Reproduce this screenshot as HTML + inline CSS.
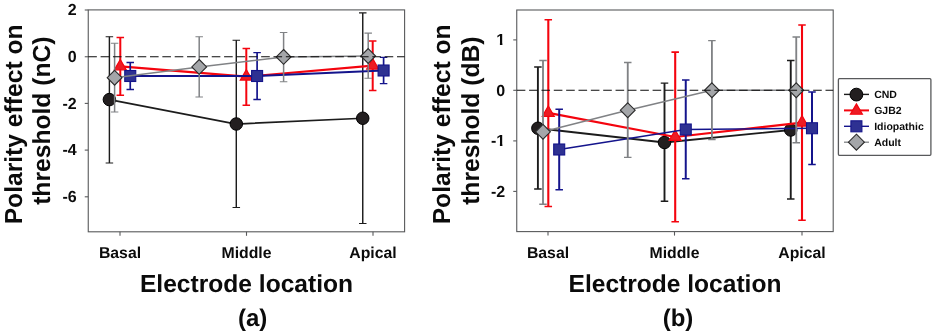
<!DOCTYPE html>
<html><head><meta charset="utf-8"><title>Polarity effect on threshold</title>
<style>html,body{margin:0;padding:0;background:#fff}svg{display:block}</style></head>
<body>
<svg width="935" height="336" viewBox="0 0 935 336" font-family="'Liberation Sans', Arial, sans-serif" font-weight="bold" fill="#0b0b0b" text-rendering="geometricPrecision">
<defs><clipPath id="c1" clipPathUnits="userSpaceOnUse"><rect x="476.75" y="27" width="36" height="16"/><rect x="499.90" y="43" width="2.5" height="3"/></clipPath><clipPath id="cm1" clipPathUnits="userSpaceOnUse"><rect x="476.75" y="128" width="36" height="16"/><rect x="499.90" y="144" width="2.5" height="3"/></clipPath></defs>
<rect width="935" height="336" fill="#fff"/>
<rect x="88.25" y="9.9" width="316.35" height="221.9" fill="none" stroke="#58595b" stroke-width="1.1"/>
<line x1="84.75" x2="88.25" y1="10" y2="10" stroke="#58595b" stroke-width="1.1"/>
<text x="76.75" y="15" text-anchor="end" font-size="16">2</text>
<line x1="84.75" x2="88.25" y1="56.75" y2="56.75" stroke="#58595b" stroke-width="1.1"/>
<text x="76.75" y="62" text-anchor="end" font-size="16">0</text>
<line x1="84.75" x2="88.25" y1="103.4" y2="103.4" stroke="#58595b" stroke-width="1.1"/>
<text x="76.75" y="109" text-anchor="end" font-size="16">-2</text>
<line x1="84.75" x2="88.25" y1="150.1" y2="150.1" stroke="#58595b" stroke-width="1.1"/>
<text x="76.75" y="155" text-anchor="end" font-size="16">-4</text>
<line x1="84.75" x2="88.25" y1="196.8" y2="196.8" stroke="#58595b" stroke-width="1.1"/>
<text x="76.75" y="202" text-anchor="end" font-size="16">-6</text>
<line x1="120" x2="120" y1="231.8" y2="235.8" stroke="#58595b" stroke-width="1.1"/>
<text x="120" y="257.6" text-anchor="middle" font-size="15.8">Basal</text>
<line x1="246.5" x2="246.5" y1="231.8" y2="235.8" stroke="#58595b" stroke-width="1.1"/>
<text x="246.5" y="257.6" text-anchor="middle" font-size="15.8">Middle</text>
<line x1="373" x2="373" y1="231.8" y2="235.8" stroke="#58595b" stroke-width="1.1"/>
<text x="373" y="257.6" text-anchor="middle" font-size="15.8">Apical</text>
<path d="M109.4 36.75V163" stroke="#1c1c1c" stroke-width="1.45" fill="none"/><path d="M105.65 36.75H113.15M105.65 163H113.15" stroke="#1c1c1c" stroke-width="1.10" fill="none"/>
<path d="M236.3 40.2V207.5" stroke="#1c1c1c" stroke-width="1.45" fill="none"/><path d="M232.55 40.2H240.05M232.55 207.5H240.05" stroke="#1c1c1c" stroke-width="1.10" fill="none"/>
<path d="M362.75 12.9V223.5" stroke="#1c1c1c" stroke-width="1.45" fill="none"/><path d="M359.0 12.9H366.5M359.0 223.5H366.5" stroke="#1c1c1c" stroke-width="1.10" fill="none"/>
<path d="M109.4 99.6 L236.3 124 L362.75 118.25" stroke="#1c1c1c" stroke-width="1.75" fill="none"/>
<circle cx="109.4" cy="99.6" r="6.25" fill="#231f20" stroke="#000" stroke-width="1"/>
<circle cx="236.3" cy="124" r="6.25" fill="#231f20" stroke="#000" stroke-width="1"/>
<circle cx="362.75" cy="118.25" r="6.25" fill="#231f20" stroke="#000" stroke-width="1"/>
<path d="M120.3 37.5V95.25" stroke="#f4040e" stroke-width="2.0" fill="none"/><path d="M116.55 37.5H124.05M116.55 95.25H124.05" stroke="#f4040e" stroke-width="1.50" fill="none"/>
<path d="M246.3 48.6V105.25" stroke="#f4040e" stroke-width="2.0" fill="none"/><path d="M242.55 48.6H250.05M242.55 105.25H250.05" stroke="#f4040e" stroke-width="1.50" fill="none"/>
<path d="M372.7 41.1V90.6" stroke="#f4040e" stroke-width="2.0" fill="none"/><path d="M368.95 41.1H376.45M368.95 90.6H376.45" stroke="#f4040e" stroke-width="1.50" fill="none"/>
<path d="M120.3 66.4 L246.3 76.6 L372.7 65.6" stroke="#f4040e" stroke-width="2.1" fill="none"/>
<path d="M120.3 59.47L126.3 69.86H114.3Z" fill="#ed1c24" stroke="#f4040e" stroke-width="1.2" stroke-linejoin="miter"/>
<path d="M246.3 69.67L252.3 80.06H240.3Z" fill="#ed1c24" stroke="#f4040e" stroke-width="1.2" stroke-linejoin="miter"/>
<path d="M372.7 58.67L378.7 69.06H366.7Z" fill="#ed1c24" stroke="#f4040e" stroke-width="1.2" stroke-linejoin="miter"/>
<path d="M130.25 62.5V89.5" stroke="#14148c" stroke-width="1.7" fill="none"/><path d="M126.5 62.5H134.0M126.5 89.5H134.0" stroke="#14148c" stroke-width="1.27" fill="none"/>
<path d="M257.1 52.7V99.5" stroke="#14148c" stroke-width="1.7" fill="none"/><path d="M253.35000000000002 52.7H260.85M253.35000000000002 99.5H260.85" stroke="#14148c" stroke-width="1.27" fill="none"/>
<path d="M383.6 57.4V83.6" stroke="#14148c" stroke-width="1.7" fill="none"/><path d="M379.85 57.4H387.35M379.85 83.6H387.35" stroke="#14148c" stroke-width="1.27" fill="none"/>
<path d="M130.25 76 L257.1 76 L383.6 70.5" stroke="#14148c" stroke-width="2.0" fill="none"/>
<rect x="124.75" y="70.5" width="11.0" height="11.0" fill="#2e3192" stroke="#14148a" stroke-width="1.1"/>
<rect x="251.60000000000002" y="70.5" width="11.0" height="11.0" fill="#2e3192" stroke="#14148a" stroke-width="1.1"/>
<rect x="378.1" y="65.0" width="11.0" height="11.0" fill="#2e3192" stroke="#14148a" stroke-width="1.1"/>
<path d="M114.6 43.25V112" stroke="#808285" stroke-width="1.5" fill="none"/><path d="M110.85 43.25H118.35M110.85 112H118.35" stroke="#808285" stroke-width="1.12" fill="none"/>
<path d="M199.2 36.75V97" stroke="#808285" stroke-width="1.5" fill="none"/><path d="M195.45 36.75H202.95M195.45 97H202.95" stroke="#808285" stroke-width="1.12" fill="none"/>
<path d="M283.6 32.5V81.8" stroke="#808285" stroke-width="1.5" fill="none"/><path d="M279.85 32.5H287.35M279.85 81.8H287.35" stroke="#808285" stroke-width="1.12" fill="none"/>
<path d="M368.2 33.1V78.2" stroke="#808285" stroke-width="1.5" fill="none"/><path d="M364.45 33.1H371.95M364.45 78.2H371.95" stroke="#808285" stroke-width="1.12" fill="none"/>
<path d="M114.6 77.7 L199.2 66.9 L283.6 56.9 L368.2 56" stroke="#808285" stroke-width="1.5" fill="none"/>
<path d="M114.6 70.3L122.0 77.7L114.6 85.10000000000001L107.19999999999999 77.7Z" fill="#a4a6a9" stroke="#2a2a2a" stroke-width="1.1"/>
<path d="M199.2 59.50000000000001L206.6 66.9L199.2 74.30000000000001L191.79999999999998 66.9Z" fill="#a4a6a9" stroke="#2a2a2a" stroke-width="1.1"/>
<path d="M283.6 49.5L291.0 56.9L283.6 64.3L276.20000000000005 56.9Z" fill="#a4a6a9" stroke="#2a2a2a" stroke-width="1.1"/>
<path d="M368.2 48.6L375.59999999999997 56L368.2 63.4L360.8 56Z" fill="#a4a6a9" stroke="#2a2a2a" stroke-width="1.1"/>
<line x1="88.25" x2="404.6" y1="56.7" y2="56.7" stroke="#0c0c0c" stroke-width="1.1" stroke-dasharray="8.6 3.75"/>
<rect x="516.75" y="10" width="316.45000000000005" height="221.6" fill="none" stroke="#58595b" stroke-width="1.1"/>
<line x1="513.25" x2="516.75" y1="39.9" y2="39.9" stroke="#58595b" stroke-width="1.1"/>
<text x="505.25" y="45" text-anchor="end" font-size="16" clip-path="url(#c1)">1</text>
<line x1="513.25" x2="516.75" y1="90.3" y2="90.3" stroke="#58595b" stroke-width="1.1"/>
<text x="505.25" y="96" text-anchor="end" font-size="16">0</text>
<line x1="513.25" x2="516.75" y1="140.9" y2="140.9" stroke="#58595b" stroke-width="1.1"/>
<text x="505.25" y="146" text-anchor="end" font-size="16" clip-path="url(#cm1)">-1</text>
<line x1="513.25" x2="516.75" y1="191.4" y2="191.4" stroke="#58595b" stroke-width="1.1"/>
<text x="505.25" y="197" text-anchor="end" font-size="16">-2</text>
<line x1="548" x2="548" y1="231.6" y2="235.6" stroke="#58595b" stroke-width="1.1"/>
<text x="548" y="257.6" text-anchor="middle" font-size="15.8">Basal</text>
<line x1="674.5" x2="674.5" y1="231.6" y2="235.6" stroke="#58595b" stroke-width="1.1"/>
<text x="674.5" y="257.6" text-anchor="middle" font-size="15.8">Middle</text>
<line x1="802" x2="802" y1="231.6" y2="235.6" stroke="#58595b" stroke-width="1.1"/>
<text x="802" y="257.6" text-anchor="middle" font-size="15.8">Apical</text>
<path d="M537.9 67V189" stroke="#1c1c1c" stroke-width="1.9" fill="none"/><path d="M534.15 67H541.65M534.15 189H541.65" stroke="#1c1c1c" stroke-width="1.42" fill="none"/>
<path d="M664.5 83.1V201.25" stroke="#1c1c1c" stroke-width="1.9" fill="none"/><path d="M660.75 83.1H668.25M660.75 201.25H668.25" stroke="#1c1c1c" stroke-width="1.42" fill="none"/>
<path d="M790.75 60.5V199" stroke="#1c1c1c" stroke-width="1.9" fill="none"/><path d="M787.0 60.5H794.5M787.0 199H794.5" stroke="#1c1c1c" stroke-width="1.42" fill="none"/>
<path d="M537.9 128.25 L664.5 142.5 L790.75 130" stroke="#1c1c1c" stroke-width="1.9" fill="none"/>
<circle cx="537.9" cy="128.25" r="6.25" fill="#231f20" stroke="#000" stroke-width="1"/>
<circle cx="664.5" cy="142.5" r="6.25" fill="#231f20" stroke="#000" stroke-width="1"/>
<circle cx="790.75" cy="130" r="6.25" fill="#231f20" stroke="#000" stroke-width="1"/>
<path d="M548.3 19.8V206.5" stroke="#f4040e" stroke-width="2.1" fill="none"/><path d="M544.55 19.8H552.05M544.55 206.5H552.05" stroke="#f4040e" stroke-width="1.58" fill="none"/>
<path d="M675.2 52.1V221.75" stroke="#f4040e" stroke-width="2.1" fill="none"/><path d="M671.45 52.1H678.95M671.45 221.75H678.95" stroke="#f4040e" stroke-width="1.58" fill="none"/>
<path d="M802 25V220.25" stroke="#f4040e" stroke-width="2.1" fill="none"/><path d="M798.25 25H805.75M798.25 220.25H805.75" stroke="#f4040e" stroke-width="1.58" fill="none"/>
<path d="M548.3 112.9 L675.2 137 L802 122.6" stroke="#f4040e" stroke-width="2.2" fill="none"/>
<path d="M548.3 105.97L554.3 116.36H542.3Z" fill="#ed1c24" stroke="#f4040e" stroke-width="1.2" stroke-linejoin="miter"/>
<path d="M675.2 130.07L681.2 140.46H669.2Z" fill="#ed1c24" stroke="#f4040e" stroke-width="1.2" stroke-linejoin="miter"/>
<path d="M802 115.67L808.0 126.06H796.0Z" fill="#ed1c24" stroke="#f4040e" stroke-width="1.2" stroke-linejoin="miter"/>
<path d="M559.2 109.3V189.75" stroke="#14148c" stroke-width="2.0" fill="none"/><path d="M555.45 109.3H562.95M555.45 189.75H562.95" stroke="#14148c" stroke-width="1.50" fill="none"/>
<path d="M685.75 80V178.75" stroke="#14148c" stroke-width="2.0" fill="none"/><path d="M682.0 80H689.5M682.0 178.75H689.5" stroke="#14148c" stroke-width="1.50" fill="none"/>
<path d="M812 92V164.5" stroke="#14148c" stroke-width="2.0" fill="none"/><path d="M808.25 92H815.75M808.25 164.5H815.75" stroke="#14148c" stroke-width="1.50" fill="none"/>
<path d="M559.2 149.5 L685.75 129.5 L812 128.25" stroke="#14148c" stroke-width="1.7" fill="none"/>
<rect x="553.7" y="144.0" width="11.0" height="11.0" fill="#2e3192" stroke="#14148a" stroke-width="1.1"/>
<rect x="680.25" y="124.0" width="11.0" height="11.0" fill="#2e3192" stroke="#14148a" stroke-width="1.1"/>
<rect x="806.5" y="122.75" width="11.0" height="11.0" fill="#2e3192" stroke="#14148a" stroke-width="1.1"/>
<path d="M543 60.5V204.25" stroke="#808285" stroke-width="1.85" fill="none"/><path d="M539.25 60.5H546.75M539.25 204.25H546.75" stroke="#808285" stroke-width="1.39" fill="none"/>
<path d="M627.75 62.5V157.4" stroke="#808285" stroke-width="1.85" fill="none"/><path d="M624.0 62.5H631.5M624.0 157.4H631.5" stroke="#808285" stroke-width="1.39" fill="none"/>
<path d="M711.9 40.6V139.5" stroke="#808285" stroke-width="1.85" fill="none"/><path d="M708.15 40.6H715.65M708.15 139.5H715.65" stroke="#808285" stroke-width="1.39" fill="none"/>
<path d="M796.25 37V142.75" stroke="#808285" stroke-width="1.85" fill="none"/><path d="M792.5 37H800.0M792.5 142.75H800.0" stroke="#808285" stroke-width="1.39" fill="none"/>
<path d="M543 131.8 L627.75 110.2 L711.9 90.25 L796.25 90.25" stroke="#808285" stroke-width="1.7" fill="none"/>
<path d="M543 124.4L550.4 131.8L543 139.20000000000002L535.6 131.8Z" fill="#a4a6a9" stroke="#2a2a2a" stroke-width="1.1"/>
<path d="M627.75 102.8L635.15 110.2L627.75 117.60000000000001L620.35 110.2Z" fill="#a4a6a9" stroke="#2a2a2a" stroke-width="1.1"/>
<path d="M711.9 82.85L719.3 90.25L711.9 97.65L704.5 90.25Z" fill="#a4a6a9" stroke="#2a2a2a" stroke-width="1.1"/>
<path d="M796.25 82.85L803.65 90.25L796.25 97.65L788.85 90.25Z" fill="#a4a6a9" stroke="#2a2a2a" stroke-width="1.1"/>
<line x1="516.75" x2="833.2" y1="90.3" y2="90.3" stroke="#0c0c0c" stroke-width="1.1" stroke-dasharray="8.6 3.75"/>
<text transform="translate(21.8 124.4) rotate(-90)" text-anchor="middle" font-size="24.65">Polarity effect on</text>
<text transform="translate(450.0 124.4) rotate(-90)" text-anchor="middle" font-size="24.65">Polarity effect on</text>
<text transform="translate(50.1 120.7) rotate(-90)" text-anchor="middle" font-size="24.65">threshold (nC)</text>
<text transform="translate(478.5 120.7) rotate(-90)" text-anchor="middle" font-size="24.65">threshold (dB)</text>
<text x="246.5" y="291.5" text-anchor="middle" font-size="24.6">Electrode location</text>
<text x="675" y="291.5" text-anchor="middle" font-size="24.55">Electrode location</text>
<text x="252.7" y="325.7" text-anchor="middle" font-size="24">(a)</text>
<text x="678" y="325.7" text-anchor="middle" font-size="24">(b)</text>
<rect x="838.4" y="78.7" width="92.5" height="76.6" rx="1" fill="#fff" stroke="#58595b" stroke-width="1.3"/>
<line x1="844" x2="869" y1="94.4" y2="94.4" stroke="#1c1c1c" stroke-width="1.4"/>
<circle cx="856.4" cy="94.60000000000001" r="6.4" fill="#231f20" stroke="#000" stroke-width="1"/>
<text x="874.2" y="98" font-size="10.5">CND</text>
<line x1="844" x2="869" y1="110.4" y2="110.4" stroke="#f4040e" stroke-width="2.0"/>
<path d="M856.4 103.87L862.4 114.26H850.4Z" fill="#ed1c24" stroke="#f4040e" stroke-width="1.2" stroke-linejoin="miter"/>
<text x="874.2" y="113.9" font-size="10.5">GJB2</text>
<line x1="844" x2="869" y1="126.3" y2="126.3" stroke="#14148c" stroke-width="1.4"/>
<rect x="850.9" y="120.8" width="11.0" height="11.0" fill="#2e3192" stroke="#14148a" stroke-width="1.1"/>
<text x="874.2" y="129.6" font-size="10.5">Idiopathic</text>
<line x1="844" x2="869" y1="142.2" y2="142.2" stroke="#808285" stroke-width="1.3"/>
<path d="M856.4 134.2L864.4 142.2L856.4 150.2L848.4 142.2Z" fill="#a4a6a9" stroke="#2a2a2a" stroke-width="1.1"/>
<text x="874.2" y="145.8" font-size="10.5">Adult</text>
</svg>
</body></html>
